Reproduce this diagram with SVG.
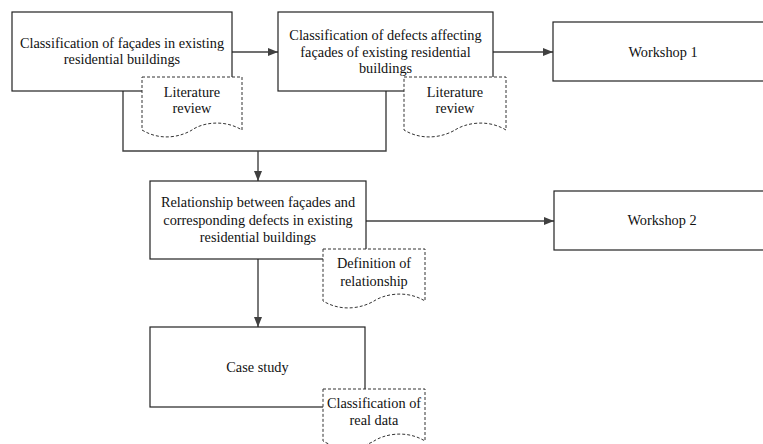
<svg xmlns="http://www.w3.org/2000/svg" width="763" height="444" viewBox="0 0 763 444">
  <style>
    .box { fill: #ffffff; stroke: #222222; stroke-width: 1.2; }
    .doc { fill: #ffffff; stroke: #333333; stroke-width: 1; stroke-dasharray: 3 2; }
    .link { fill: none; stroke: #404040; stroke-width: 1.4; }
    text { font-family: "Liberation Serif", "Times New Roman", serif; font-size: 14.3px; fill: #111111; text-anchor: middle; }
  </style>
  <defs>
    <marker id="arrow" viewBox="0 0 10 8" refX="10" refY="4" markerWidth="10" markerHeight="8" markerUnits="userSpaceOnUse" orient="auto">
      <path d="M0,0 L10,4 L0,8 Z" fill="#404040"/>
    </marker>
  </defs>
  <rect width="763" height="444" fill="#ffffff"/>

  <!-- connectors -->
  <g id="connectors">
    <path class="link" d="M232,52 H278" marker-end="url(#arrow)"/>
    <path class="link" d="M493,52 H553" marker-end="url(#arrow)"/>
    <path class="link" d="M123,91 V151 H386 V91"/>
    <path class="link" d="M258,151 V181" marker-end="url(#arrow)"/>
    <path class="link" d="M366,221 H554" marker-end="url(#arrow)"/>
    <path class="link" d="M258,259 V327" marker-end="url(#arrow)"/>
  </g>

  <!-- process boxes -->
  <g id="facade-classification">
    <rect class="box" x="12" y="12" width="220" height="79"/>
    <text x="122" y="48">Classification of façades in existing</text>
    <text x="122" y="64">residential buildings</text>
  </g>
  <g id="defect-classification">
    <rect class="box" x="278" y="12" width="215" height="79"/>
    <text x="385.5" y="40">Classification of defects affecting</text>
    <text x="385.5" y="56.5">façades of existing residential</text>
    <text x="385.5" y="73">buildings</text>
  </g>
  <g id="workshop-1">
    <rect class="box" x="553" y="22" width="220" height="59"/>
    <text x="663" y="56.5">Workshop 1</text>
  </g>
  <g id="relationship">
    <rect class="box" x="150" y="181" width="216" height="78"/>
    <text x="258" y="207">Relationship between façades and</text>
    <text x="258" y="224.5">corresponding defects in existing</text>
    <text x="258" y="242">residential buildings</text>
  </g>
  <g id="workshop-2">
    <rect class="box" x="554" y="191" width="220" height="59"/>
    <text x="662" y="225">Workshop 2</text>
  </g>
  <g id="case-study">
    <rect class="box" x="150" y="327" width="215" height="80"/>
    <text x="257.5" y="371.5">Case study</text>
  </g>

  <!-- document notes -->
  <g id="literature-review-1">
    <path class="doc" d="M142,77 H242 V130 C222,118 200,124 192,130 C182,136 162,142 142,130 Z"/>
    <text x="192" y="97">Literature</text>
    <text x="192" y="113">review</text>
  </g>
  <g id="literature-review-2">
    <path class="doc" d="M404,77 H506 V130 C486,118 464,124 455,130 C445,136 424,142 404,130 Z"/>
    <text x="455" y="97">Literature</text>
    <text x="455" y="113">review</text>
  </g>
  <g id="relationship-definition">
    <path class="doc" d="M323,249 H425 V301 C405,289 383,295 374,301 C364,307 343,313 323,301 Z"/>
    <text x="374" y="268">Definition of</text>
    <text x="374" y="285.5">relationship</text>
  </g>
  <g id="real-data-classification">
    <path class="doc" d="M323,389 H425 V441 C405,429 383,435 374,441 C364,447 343,453 323,441 Z"/>
    <text x="374" y="408">Classification of</text>
    <text x="374" y="425">real data</text>
  </g>
</svg>
